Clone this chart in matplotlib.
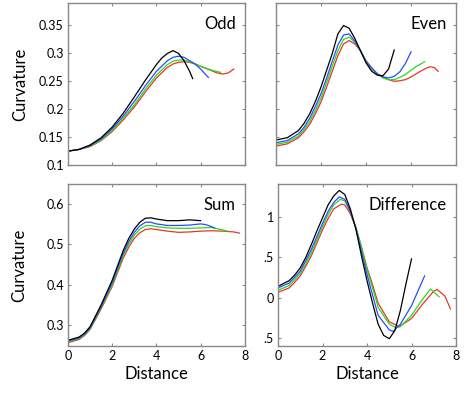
import matplotlib
matplotlib.use("Agg")
import matplotlib.pyplot as plt

plt.rcParams['font.family'] = ['Lato', 'DejaVu Sans']

# ---- data (x = distance, y = curvature) ----
# Odd
odd_black_x = [0, 0.5, 1.0, 1.5, 2.0, 2.5, 3.0, 3.5, 4.0, 4.25, 4.5, 4.75, 5.0, 5.25, 5.5, 5.64]
odd_black_y = [0.125, 0.128, 0.136, 0.149, 0.168, 0.193, 0.222, 0.252, 0.280, 0.292, 0.300, 0.305, 0.300, 0.287, 0.268, 0.255]
odd_blue_x = [0, 0.5, 1.0, 1.5, 2.0, 2.5, 3.0, 3.5, 4.0, 4.5, 4.75, 5.0, 5.25, 5.5, 5.75, 6.0, 6.35]
odd_blue_y = [0.125, 0.128, 0.135, 0.147, 0.165, 0.188, 0.214, 0.242, 0.268, 0.287, 0.293, 0.295, 0.293, 0.287, 0.281, 0.272, 0.257]
odd_green_x = [0, 0.5, 1.0, 1.5, 2.0, 2.5, 3.0, 3.5, 4.0, 4.5, 4.75, 5.0, 5.25, 5.5, 5.75, 6.0, 6.5, 6.9]
odd_green_y = [0.125, 0.128, 0.134, 0.145, 0.162, 0.184, 0.208, 0.236, 0.261, 0.280, 0.286, 0.288, 0.288, 0.285, 0.281, 0.277, 0.270, 0.266]
odd_red_x = [0, 0.5, 1.0, 1.5, 2.0, 2.5, 3.0, 3.5, 4.0, 4.5, 4.75, 5.0, 5.25, 5.5, 5.75, 6.0, 6.25, 6.5, 6.75, 7.0, 7.25, 7.5]
odd_red_y = [0.125, 0.128, 0.133, 0.144, 0.160, 0.181, 0.204, 0.231, 0.256, 0.275, 0.281, 0.284, 0.285, 0.284, 0.281, 0.277, 0.273, 0.269, 0.265, 0.263, 0.265, 0.272]

# Even
even_black_x = [0, 0.5, 1.0, 1.25, 1.5, 1.75, 2.0, 2.25, 2.5, 2.75, 3.0, 3.25, 3.5, 3.75, 4.0, 4.25, 4.5, 4.75, 5.0, 5.25]
even_black_y = [0.145, 0.149, 0.162, 0.175, 0.192, 0.214, 0.240, 0.270, 0.300, 0.335, 0.350, 0.345, 0.327, 0.305, 0.283, 0.268, 0.261, 0.260, 0.272, 0.306]
even_blue_x = [0, 0.5, 1.0, 1.25, 1.5, 1.75, 2.0, 2.25, 2.5, 2.75, 3.0, 3.25, 3.5, 3.75, 4.0, 4.5, 4.75, 5.0, 5.25, 5.5, 5.75, 6.0]
even_blue_y = [0.140, 0.144, 0.156, 0.168, 0.184, 0.205, 0.228, 0.256, 0.286, 0.315, 0.333, 0.335, 0.322, 0.305, 0.285, 0.263, 0.258, 0.256, 0.259, 0.267, 0.282, 0.303]
even_green_x = [0, 0.5, 1.0, 1.25, 1.5, 1.75, 2.0, 2.25, 2.5, 2.75, 3.0, 3.25, 3.5, 3.75, 4.0, 4.25, 4.5, 4.75, 5.0, 5.25, 5.5, 5.75, 6.0, 6.25, 6.6]
even_green_y = [0.137, 0.141, 0.152, 0.164, 0.178, 0.198, 0.220, 0.248, 0.277, 0.305, 0.325, 0.329, 0.320, 0.305, 0.286, 0.272, 0.263, 0.256, 0.253, 0.253, 0.257, 0.262, 0.270, 0.277, 0.285]
even_red_x = [0, 0.5, 1.0, 1.25, 1.5, 1.75, 2.0, 2.25, 2.5, 2.75, 3.0, 3.25, 3.5, 3.75, 4.0, 4.25, 4.5, 4.75, 5.0, 5.25, 5.5, 5.75, 6.0, 6.25, 6.5, 6.75, 6.9, 7.05, 7.2]
even_red_y = [0.134, 0.138, 0.149, 0.160, 0.173, 0.192, 0.213, 0.240, 0.268, 0.296, 0.317, 0.323, 0.317, 0.305, 0.287, 0.274, 0.264, 0.257, 0.253, 0.250, 0.251, 0.253, 0.258, 0.264, 0.270, 0.275, 0.276, 0.274, 0.268]

# Sum
sum_black_x = [0, 0.5, 0.75, 1.0, 1.5, 2.0, 2.5, 2.75, 3.0, 3.25, 3.5, 3.75, 4.0, 4.5, 5.0, 5.5, 6.0]
sum_black_y = [0.262, 0.270, 0.280, 0.296, 0.350, 0.411, 0.485, 0.515, 0.538, 0.555, 0.565, 0.566, 0.563, 0.559, 0.559, 0.561, 0.559]
sum_blue_x = [0, 0.5, 0.75, 1.0, 1.5, 2.0, 2.5, 2.75, 3.0, 3.25, 3.5, 3.75, 4.0, 4.5, 5.0, 5.5, 6.0, 6.25, 6.5, 6.63]
sum_blue_y = [0.260, 0.268, 0.278, 0.293, 0.346, 0.405, 0.478, 0.507, 0.530, 0.546, 0.555, 0.555, 0.551, 0.547, 0.547, 0.548, 0.551, 0.549, 0.544, 0.541]
sum_green_x = [0, 0.5, 0.75, 1.0, 1.5, 2.0, 2.5, 2.75, 3.0, 3.25, 3.5, 3.75, 4.0, 4.5, 5.0, 5.5, 6.0, 6.5, 7.0, 7.2]
sum_green_y = [0.258, 0.266, 0.276, 0.291, 0.343, 0.400, 0.472, 0.500, 0.523, 0.538, 0.546, 0.547, 0.544, 0.541, 0.540, 0.540, 0.541, 0.542, 0.536, 0.533]
sum_red_x = [0, 0.5, 0.75, 1.0, 1.5, 2.0, 2.5, 2.75, 3.0, 3.25, 3.5, 3.75, 4.0, 4.5, 5.0, 5.5, 6.0, 6.5, 7.0, 7.5, 7.76]
sum_red_y = [0.256, 0.264, 0.274, 0.289, 0.340, 0.396, 0.466, 0.493, 0.515, 0.529, 0.537, 0.539, 0.537, 0.533, 0.530, 0.531, 0.533, 0.534, 0.533, 0.531, 0.528]

# Difference
diff_black_x = [0, 0.5, 0.75, 1.0, 1.25, 1.5, 1.75, 2.0, 2.25, 2.5, 2.75, 3.0, 3.25, 3.5, 3.75, 4.0, 4.25, 4.5, 4.75, 5.0, 5.25, 5.5, 5.75, 6.0]
diff_black_y = [0.14, 0.21, 0.28, 0.37, 0.50, 0.66, 0.83, 0.99, 1.15, 1.26, 1.33, 1.28, 1.10, 0.85, 0.52, 0.21, -0.07, -0.33, -0.47, -0.51, -0.41, -0.16, 0.17, 0.48]
diff_blue_x = [0, 0.5, 0.75, 1.0, 1.25, 1.5, 1.75, 2.0, 2.25, 2.5, 2.75, 3.0, 3.25, 3.5, 3.75, 4.0, 4.25, 4.5, 5.0, 5.17, 5.5, 6.0, 6.59]
diff_blue_y = [0.12, 0.18, 0.25, 0.33, 0.46, 0.60, 0.76, 0.92, 1.07, 1.18, 1.25, 1.22, 1.07, 0.86, 0.57, 0.29, 0.03, -0.22, -0.40, -0.42, -0.33, -0.10, 0.27]
diff_green_x = [0, 0.5, 0.75, 1.0, 1.25, 1.5, 1.75, 2.0, 2.25, 2.5, 2.8, 3.0, 3.25, 3.5, 3.75, 4.0, 4.25, 4.5, 5.0, 5.3, 5.5, 6.0, 6.5, 6.85, 7.24]
diff_green_y = [0.09, 0.15, 0.22, 0.30, 0.42, 0.56, 0.72, 0.88, 1.03, 1.15, 1.22, 1.20, 1.07, 0.87, 0.62, 0.35, 0.12, -0.12, -0.33, -0.375, -0.36, -0.22, -0.02, 0.105, 0.01]
diff_red_x = [0, 0.5, 0.75, 1.0, 1.25, 1.5, 1.75, 2.0, 2.25, 2.5, 2.85, 3.0, 3.25, 3.5, 3.75, 4.0, 4.25, 4.5, 5.0, 5.45, 6.0, 6.5, 7.0, 7.15, 7.5, 7.75]
diff_red_y = [0.065, 0.12, 0.19, 0.27, 0.39, 0.52, 0.68, 0.84, 0.98, 1.10, 1.16, 1.15, 1.04, 0.87, 0.63, 0.37, 0.16, -0.07, -0.30, -0.36, -0.26, -0.08, 0.08, 0.10, 0.02, -0.14]

colors = ['#000000', '#2a4bff', '#22dd22', '#ee3322']

fig = plt.figure(figsize=(4.69, 3.94), dpi=100)
ax_odd = fig.add_axes([0.145, 0.581, 0.377, 0.411])
ax_even = fig.add_axes([0.5885, 0.581, 0.384, 0.411])
ax_sum = fig.add_axes([0.145, 0.122, 0.377, 0.411])
ax_diff = fig.add_axes([0.5928, 0.122, 0.3795, 0.411])

panels = [
    (ax_odd, 'Odd', [(odd_black_x, odd_black_y), (odd_blue_x, odd_blue_y),
                     (odd_green_x, odd_green_y), (odd_red_x, odd_red_y)]),
    (ax_even, 'Even', [(even_black_x, even_black_y), (even_blue_x, even_blue_y),
                       (even_green_x, even_green_y), (even_red_x, even_red_y)]),
    (ax_sum, 'Sum', [(sum_black_x, sum_black_y), (sum_blue_x, sum_blue_y),
                     (sum_green_x, sum_green_y), (sum_red_x, sum_red_y)]),
    (ax_diff, 'Difference', [(diff_black_x, diff_black_y), (diff_blue_x, diff_blue_y),
                             (diff_green_x, diff_green_y), (diff_red_x, diff_red_y)]),
]

for ax, name, series in panels:
    # draw red first so black ends up on top
    for (xs, ys), c in reversed(list(zip(series, colors))):
        ax.plot(xs, ys, color=c, lw=0.9)
    ax.set_xlim(0, 8)
    ax.set_xticks([0, 2, 4, 6, 8])
    ax.tick_params(direction='in', length=2.5, width=0.8, color='#888888',
                   top=True, right=True, labelsize=9, pad=3)
    for s in ax.spines.values():
        s.set_color('#888888')
        s.set_linewidth(1.0)
    ax.text(0.95, 0.87, name, transform=ax.transAxes, ha='right', va='center', fontsize=12)

# Odd / Even share the curvature scale
for ax in (ax_odd, ax_even):
    ax.set_ylim(0.1, 0.39)
    ax.set_yticks([0.1, 0.15, 0.2, 0.25, 0.3, 0.35])
    ax.set_xticklabels([])
ax_odd.set_yticklabels(['0.1', '0.15', '0.2', '0.25', '0.3', '0.35'])
ax_even.set_yticklabels([])

ax_sum.set_ylim(0.248, 0.65)
ax_sum.set_yticks([0.3, 0.4, 0.5, 0.6])
ax_sum.set_yticklabels(['0.3', '0.4', '0.5', '0.6'])

ax_diff.set_ylim(-0.6, 1.41)
ax_diff.set_yticks([-0.5, 0, 0.5, 1])
ax_diff.set_yticklabels(['.5', '0', '.5', '1'])

for ax in (ax_sum, ax_diff):
    ax.set_xticklabels(['0', '2', '4', '6', '8'])
    ax.set_xlabel('Distance', fontsize=12, labelpad=3)

ax_odd.set_ylabel('Curvature', fontsize=12, labelpad=8)
ax_sum.set_ylabel('Curvature', fontsize=12, labelpad=14)

fig.savefig('out.png', dpi=100)
